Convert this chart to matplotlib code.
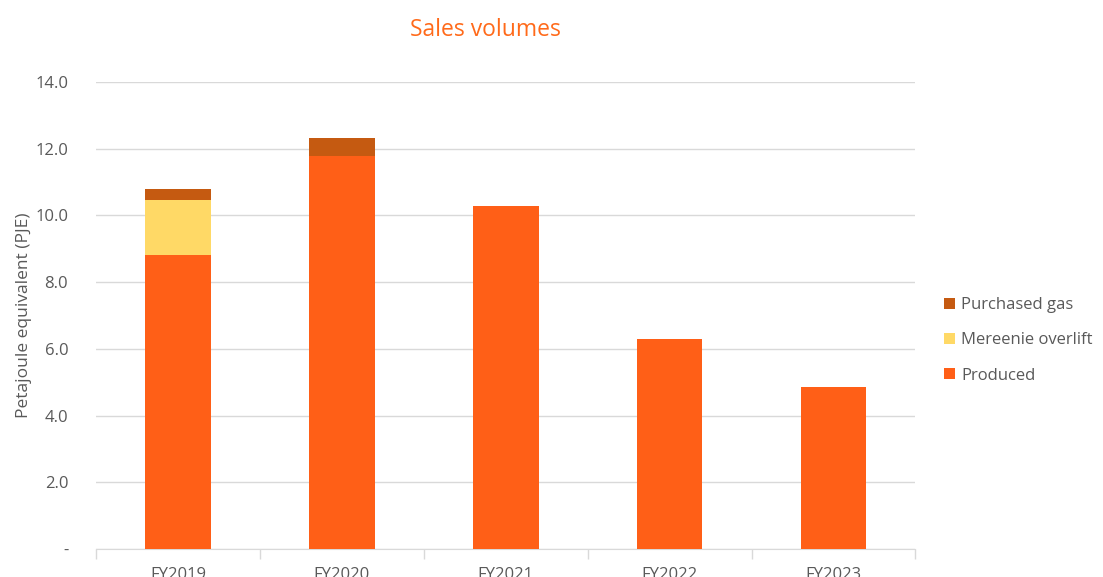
import numpy as np
import matplotlib
matplotlib.use("Agg")
import matplotlib.pyplot as plt
from matplotlib.ticker import FixedLocator, FuncFormatter

years = ["FY2019", "FY2020", "FY2021", "FY2022", "FY2023"]
produced = [8.81, 11.78, 10.28, 6.29, 4.86]
overlift = [1.65, 0.0, 0.0, 0.0, 0.0]
purchased = [0.33, 0.54, 0.0, 0.0, 0.0]

c_prod = "#FF5F17"
c_over = "#FFD966"
c_purch = "#C55A11"
grey = "#595959"

plt.rcParams["font.family"] = ["Open Sans", "DejaVu Sans"]

fig = plt.figure(figsize=(11.03, 5.77), dpi=100)
ax = fig.add_axes([0.087, 0.0485, 0.743, 0.8095])

x = np.arange(len(years))
w = 0.4
b1 = ax.bar(x, produced, w, color=c_prod, label="Produced", zorder=3)
bottom2 = np.array(produced)
b2 = ax.bar(x, overlift, w, bottom=bottom2, color=c_over, label="Mereenie overlift", zorder=3)
bottom3 = bottom2 + np.array(overlift)
b3 = ax.bar(x, purchased, w, bottom=bottom3, color=c_purch, label="Purchased gas", zorder=3)

ax.set_xlim(-0.5, len(years) - 0.5)
ax.set_ylim(0, 14)
ax.set_yticks(np.arange(0, 14.1, 2))
ax.yaxis.set_major_formatter(FuncFormatter(lambda v, p: "-" if v == 0 else f"{v:.1f}"))
ax.grid(axis="y", color="#D9D9D9", linewidth=1, zorder=0)

ax.set_xticks(x)
ax.set_xticklabels(years)
ax.xaxis.set_minor_locator(FixedLocator(np.arange(-0.5, len(years), 1)))
ax.tick_params(axis="x", which="major", length=0, pad=13, labelsize=12, labelcolor=grey)
ax.tick_params(axis="x", which="minor", length=7, color="#D9D9D9", width=1)
ax.tick_params(axis="y", length=0, pad=20, labelsize=12, labelcolor=grey)

for s in ["top", "right", "left"]:
    ax.spines[s].set_visible(False)
ax.spines["bottom"].set_color("#D9D9D9")

ax.set_ylabel("Petajoule equivalent (PJE)", fontsize=12.5, color=grey, labelpad=2)

fig.text(0.44, 0.948, "Sales volumes", ha="center", va="center", fontsize=16.5, color="#FF6A1A")

handles = [b3, b2, b1]
leg = fig.legend(handles, [h.get_label() for h in handles], loc="center left",
                 bbox_to_anchor=(0.842, 0.41), frameon=False, fontsize=12,
                 handlelength=0.65, handleheight=0.65, handletextpad=0.4,
                 labelspacing=1.15, labelcolor=grey)

fig.savefig("out.png", dpi=100)
